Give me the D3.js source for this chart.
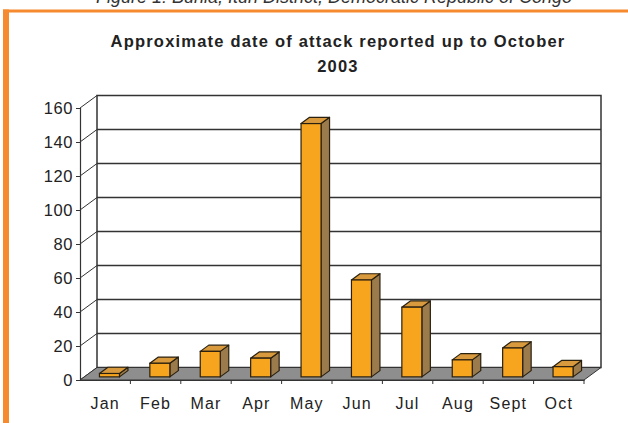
<!DOCTYPE html>
<html><head><meta charset="utf-8">
<script src="https://cdn.jsdelivr.net/npm/d3@7"></script>
<style>html,body{margin:0;padding:0;background:#fff;}svg{display:block;}</style>
</head><body>
<script>
const months = ["Jan","Feb","Mar","Apr","May","Jun","Jul","Aug","Sept","Oct"];
const attacks = [2,8,15,11,149,57,41,10,17,6];
const yTicks = [0,20,40,60,80,100,120,140,160];
const caption = "Figure 1: Bunia, Ituri District, Democratic Republic of Congo";
const titleLines = ["Approximate date of attack reported up to October","2003"];

const W=628,H=423;
const svg=d3.select("body").append("svg").attr("width",W).attr("height",H);

// frame
svg.append("text").attr("x",334).attr("y",3).attr("text-anchor","middle")
  .attr("font-family","Liberation Sans, Arial, sans-serif").attr("font-style","italic")
  .attr("font-size",18).attr("fill","#333").text(caption);
svg.append("rect").attr("x",3).attr("y",9.5).attr("width",W).attr("height",3).attr("fill","#F58A2E");
svg.append("rect").attr("x",3).attr("y",9.5).attr("width",6).attr("height",H).attr("fill","#F58A2E");

// title
svg.selectAll("text.title").data(titleLines).join("text").attr("class","title")
  .attr("x",338).attr("y",(d,i)=>46.5+i*25).attr("text-anchor","middle")
  .attr("font-family","Liberation Sans, Arial, sans-serif").attr("font-weight","bold")
  .attr("font-size",16.5).attr("letter-spacing","1.2px").attr("fill","#222").text(d=>d);

const x=d3.scaleBand().domain(months).range([80,584]);
const y=d3.scaleLinear().domain([0,160]).range([380,108]);
const DX=17, DY=-12.5;
const g=svg.append("g");

// back wall
g.append("rect").attr("x",80+DX).attr("y",y(160)+DY).attr("width",504).attr("height",y(0)-y(160))
  .attr("fill","#fff").attr("stroke","#333").attr("stroke-width",1.5);
// gridlines on back wall
g.selectAll("line.grid").data(yTicks.slice(1,-1)).join("line").attr("class","grid")
  .attr("x1",80+DX).attr("x2",584+DX).attr("y1",d=>y(d)+DY).attr("y2",d=>y(d)+DY)
  .attr("stroke","#333").attr("stroke-width",1.5);
// side wall diagonals
g.selectAll("line.diag").data(yTicks).join("line").attr("class","diag")
  .attr("x1",80).attr("x2",80+DX).attr("y1",d=>y(d)).attr("y2",d=>y(d)+DY)
  .attr("stroke","#333").attr("stroke-width",1);
// floor
g.append("path").attr("d",`M80,${y(0)}L584,${y(0)}L${584+DX},${y(0)+DY}L${80+DX},${y(0)+DY}Z`)
  .attr("fill","#8E8E8E").attr("stroke","#333").attr("stroke-width",1);

// bars
const f0=0.25,f1=0.75,bw=20;
const bars=g.selectAll("g.bar").data(months.map((m,i)=>({m,v:attacks[i]}))).join("g").attr("class","bar");
bars.each(function(d){
  const sel=d3.select(this);
  const cx=x(d.m)+x.bandwidth()/2;
  const x0=cx-bw/2+f0*DX, x1=x0+bw;
  const yb=y(0)+f0*DY, yt=y(d.v)+f0*DY;
  const ox=(f1-f0)*DX, oy=(f1-f0)*DY;
  sel.append("path").attr("d",`M${x1},${yb}L${x1+ox},${yb+oy}L${x1+ox},${yt+oy}L${x1},${yt}Z`)
    .attr("fill","#9B7B4C").attr("stroke","#2a2010").attr("stroke-width",1.2).attr("stroke-linejoin","round");
  sel.append("path").attr("d",`M${x0},${yt}L${x1},${yt}L${x1+ox},${yt+oy}L${x0+ox},${yt+oy}Z`)
    .attr("fill","#D89A3C").attr("stroke","#2a2010").attr("stroke-width",1.2).attr("stroke-linejoin","round");
  sel.append("rect").attr("x",x0).attr("y",yt).attr("width",bw).attr("height",yb-yt)
    .attr("fill","#F7A51E").attr("stroke","#2a2010").attr("stroke-width",1.2);
});

// front axes
const yAxis=d3.axisLeft(y).tickValues(yTicks).tickSize(4).tickPadding(3);
const ya=svg.append("g").attr("transform","translate(80,0)").call(yAxis);
ya.select(".domain").attr("stroke","#333").attr("stroke-width",1.2);
ya.selectAll(".tick line").attr("stroke","#333");
ya.selectAll("text").attr("font-family","Liberation Sans, Arial, sans-serif").attr("font-size",16.5)
  .attr("letter-spacing","0.6px").attr("fill","#222");

const xAxis=d3.axisBottom(x).tickSize(0).tickPadding(18);
const xa=svg.append("g").attr("transform",`translate(0,${y(0)})`).call(xAxis);
xa.select(".domain").attr("stroke","#333").attr("stroke-width",1.2);
xa.selectAll("text").attr("font-family","Liberation Sans, Arial, sans-serif").attr("font-size",16)
  .attr("fill","#222").attr("letter-spacing","1.2px");
// category boundary ticks
svg.append("g").selectAll("line").data(months.slice(1).concat(["__end"])).join("line")
  .attr("x1",d=>d==="__end"?584:x(d)).attr("x2",d=>d==="__end"?584:x(d))
  .attr("y1",y(0)).attr("y2",y(0)+4).attr("stroke","#333").attr("stroke-width",1);
</script>
</body></html>
